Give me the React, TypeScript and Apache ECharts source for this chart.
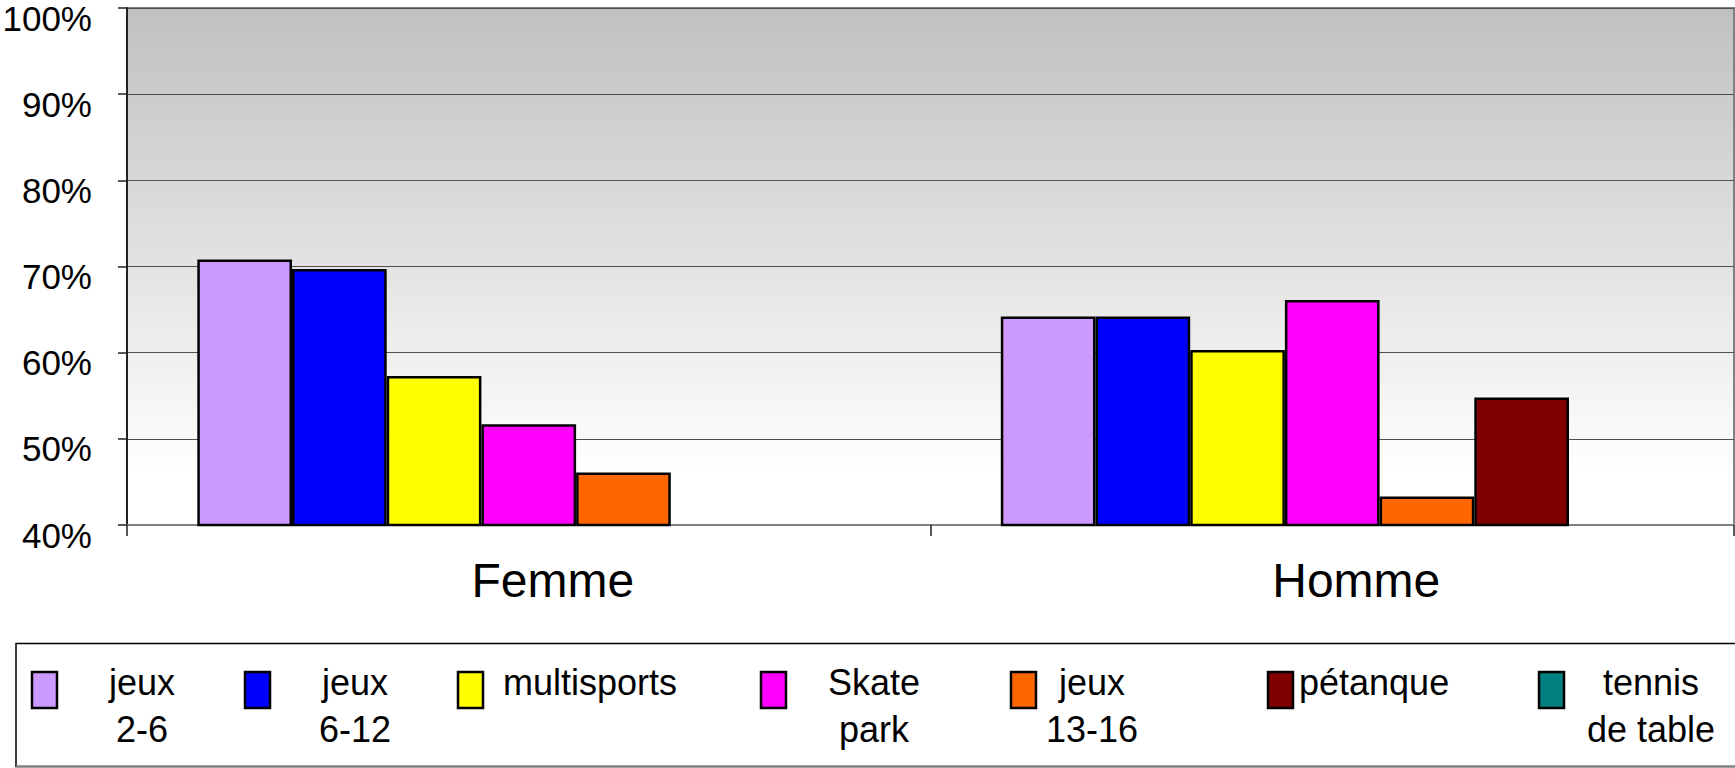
import React, { useEffect, useRef } from "react";
import * as echarts from "echarts";

const categories = ["Femme", "Homme"];
const seriesNames = [
  "jeux 2-6",
  "jeux 6-12",
  "multisports",
  "Skate park",
  "jeux 13-16",
  "pétanque",
  "tennis de table",
];
const legendLabels = [
  "jeux\n2-6",
  "jeux\n6-12",
  "multisports",
  "Skate\npark",
  "jeux\n13-16",
  "pétanque",
  "tennis\nde table",
];
const seriesColors = ["#CC99FF", "#0000FF", "#FFFF00", "#FF00FF", "#FF6600", "#800000", "#008080"];
// values in % for [Femme, Homme]
const jeux2_6 = [70.8, 64.2];
const jeux6_12 = [69.7, 64.2];
const multisports = [57.3, 60.3];
const skatePark = [51.7, 66.1];
const jeux13_16 = [46.1, 43.3];
const petanque = [null, 54.8];
const tennisDeTable = [null, null];
const seriesValues = [jeux2_6, jeux6_12, multisports, skatePark, jeux13_16, petanque, tennisDeTable];
const yTicks = { min: 40, max: 100, interval: 10 };

// legend layout: marker x, text anchor x, text alignment
const legendLayout = [
  { mx: 32, tx: 142, align: "center" },
  { mx: 245, tx: 355, align: "center" },
  { mx: 458, tx: 503, align: "left" },
  { mx: 761, tx: 874, align: "center" },
  { mx: 1011, tx: 1092, align: "center" },
  { mx: 1268, tx: 1299, align: "left" },
  { mx: 1539, tx: 1651, align: "center" },
];

const FONT = "'Liberation Sans', Arial, sans-serif";

export default function App() {
  const ref = useRef<HTMLDivElement>(null);
  useEffect(() => {
    if (!ref.current) return;
    const chart = echarts.init(ref.current, undefined, { renderer: "svg" });

    const legendGraphics: any[] = [
      {
        type: "rect",
        shape: { x: 16, y: 643.5, width: 1740, height: 123 },
        style: { fill: "#fff", stroke: "#000", lineWidth: 1.5 },
        z: 1,
      },
      {
        type: "line",
        shape: { x1: 16, y1: 766.5, x2: 1735, y2: 766.5 },
        style: { stroke: "#808080", lineWidth: 2 },
        z: 2,
      },
    ];
    legendLabels.forEach((lab, i) => {
      const l = legendLayout[i];
      legendGraphics.push({
        type: "rect",
        shape: { x: l.mx, y: 672, width: 25, height: 36 },
        style: { fill: seriesColors[i], stroke: "#000", lineWidth: 2.5 },
        z: 3,
      });
      legendGraphics.push({
        type: "text",
        x: l.tx,
        y: 659,
        style: {
          text: lab,
          fill: "#000",
          font: `36px ${FONT}`,
          fontSize: 36,
          fontFamily: FONT,
          lineHeight: 47,
          align: l.align,
          verticalAlign: "top",
        },
        z: 3,
      });
    });

    chart.setOption({
      animation: false,
      grid: {
        left: 127,
        top: 8,
        width: 1607,
        bottom: 243,
        containLabel: false,
        outerBoundsMode: "none",
        show: true,
        borderColor: "#808080",
        borderWidth: 2,
        backgroundColor: new echarts.graphic.LinearGradient(0, 0, 0, 1, [
          { offset: 0, color: "#c0c0c0" },
          { offset: 0.9, color: "#ffffff" },
          { offset: 1, color: "#ffffff" },
        ]),
      },
      xAxis: {
        type: "category",
        data: categories,
        axisLine: { show: true, lineStyle: { color: "#808080", width: 2 } },
        axisTick: { show: true, length: 11, interval: 0, lineStyle: { color: "#222", width: 1.5 } },
        axisLabel: {
          fontSize: 48,
          fontFamily: FONT,
          color: "#000",
          margin: 31,
          lineHeight: 48,
          padding: [0, 0, 0, 48],
        },
        splitLine: { show: false },
      },
      yAxis: {
        type: "value",
        min: yTicks.min,
        max: yTicks.max,
        interval: yTicks.interval,
        axisLine: { show: true, lineStyle: { color: "#222", width: 2 } },
        axisTick: { show: true, length: 9, lineStyle: { color: "#222", width: 1.5 } },
        axisLabel: {
          formatter: (v: number) => `${v}%`,
          fontSize: 35,
          fontFamily: FONT,
          color: "#000",
          margin: 35,
          verticalAlign: "top",
          lineHeight: 20,
        },
        splitLine: { show: true, lineStyle: { color: "#505050", width: 1.2 } },
      },
      series: seriesNames.map((name, i) => ({
        name,
        type: "bar",
        data: seriesValues[i],
        barGap: "0%",
        barCategoryGap: "17.5%",
        itemStyle: { color: seriesColors[i], borderColor: "#000", borderWidth: 2.5 },
      })),
      graphic: legendGraphics,
    });
    return () => chart.dispose();
  }, []);
  return (
    <div
      ref={ref}
      style={{ position: "absolute", left: 0, top: 0, width: 1735, height: 768, background: "#fff" }}
    />
  );
}
